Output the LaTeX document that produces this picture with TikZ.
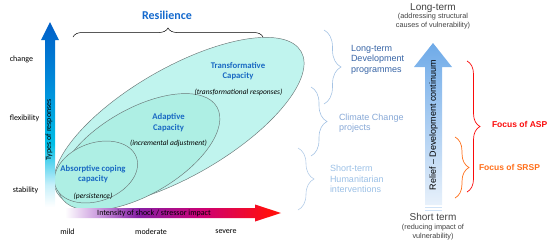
\documentclass[tikz,border=0pt]{standalone}
\usepackage{fontspec}
\setmainfont{Liberation Sans}
\newfontfamily\calfont{Carlito}
\usetikzlibrary{decorations.pathreplacing}

\definecolor{resblue}{RGB}{20,105,205}
\definecolor{capblue}{RGB}{25,105,195}
\definecolor{ltdev}{RGB}{55,100,165}
\definecolor{ccblue}{RGB}{135,168,214}
\definecolor{stblue}{RGB}{155,192,230}
\definecolor{bracea}{RGB}{165,195,228}
\definecolor{braceb}{RGB}{180,205,232}
\definecolor{ellouterfill}{RGB}{192,244,238}
\definecolor{ellinnerfill}{RGB}{174,239,228}
\definecolor{elldraw}{RGB}{105,118,118}
\definecolor{aspred}{RGB}{250,10,10}
\definecolor{srsporange}{RGB}{255,110,25}
\definecolor{graytxt}{RGB}{65,65,65}
\definecolor{rs1}{RGB}{200,240,250}
\definecolor{rs2}{RGB}{0,190,230}
\definecolor{rs3}{RGB}{0,140,218}
\definecolor{rs4}{RGB}{0,95,200}
\definecolor{in2}{RGB}{200,150,220}
\definecolor{in3}{RGB}{135,30,165}
\definecolor{in4}{RGB}{205,0,115}
\definecolor{in5}{RGB}{255,15,15}
\definecolor{ratop}{RGB}{110,170,232}
\definecolor{rabot}{RGB}{232,241,251}

\pgfdeclareverticalshading{respshade}{100bp}{color(0bp)=(white); color(25bp)=(white); color(31bp)=(rs1); color(42bp)=(rs2); color(58bp)=(rs3); color(75bp)=(rs4); color(100bp)=(rs4)}
\pgfdeclarehorizontalshading{intshade}{100bp}{color(0bp)=(white); color(25bp)=(white); color(33bp)=(in2); color(42bp)=(in3); color(57bp)=(in4); color(72bp)=(in5); color(100bp)=(in5)}

\tikzset{
  every node/.style={inner sep=0pt, outer sep=0pt},
  axlbl/.style={font=\calfont\fontsize{8}{9}\selectfont, text=black},
  capt/.style={font=\calfont\bfseries\fontsize{8.7}{10.5}\selectfont, text=capblue, align=center},
  capi/.style={font=\calfont\itshape\fontsize{7.5}{9}\selectfont, text=black},
  ellbase/.style={draw=elldraw, line width=0.45pt},
  rtext/.style={font=\fontsize{9}{10.6}\selectfont, align=left},
  bracedeco/.style={decorate, decoration={brace, amplitude=#1}},
  termbig/.style={font=\fontsize{10}{12}\selectfont, text=graytxt},
  termsmall/.style={font=\fontsize{7.3}{9}\selectfont, text=graytxt, align=center},
  focus/.style={font=\bfseries\fontsize{8.5}{10}\selectfont, anchor=west}
}

\begin{document}
\begin{tikzpicture}[x=1pt,y=-1pt]
\useasboundingbox (0,0) rectangle (550,244);

% ellipses
\path[ellbase, fill=ellouterfill, rotate around={30:(179,122)}] (179,122) ellipse [x radius=141pt, y radius=54pt];
\path[ellbase, fill=ellinnerfill, rotate around={30:(139,152)}] (139,152) ellipse [x radius=90pt, y radius=43pt];
\path[ellbase, fill=ellinnerfill, rotate around={20:(96,172)}] (96,172) ellipse [x radius=43pt, y radius=29pt];

% left vertical arrow
\shade[shading=respshade] (45,207) -- (45,40) -- (41,40) -- (50,22) -- (59,40) -- (55,40) -- (55,207) -- cycle;
\node[axlbl, rotate=90] (types) at (49,130) {Types of responses};

% bottom arrow
\shade[shading=intshade] (65,208) -- (255,208) -- (255,204.5) -- (281,213) -- (255,221.5) -- (255,218) -- (65,218) -- cycle;
\node[axlbl] (intens) at (154,213.5) {Intensity of shock / stressor impact};

% axis labels
\node[axlbl] (change) at (21.5,59) {change};
\node[axlbl] (flex) at (24.5,118) {flexibility};
\node[axlbl] (stab) at (25.5,190) {stability};
\node[axlbl] (mild) at (67.5,232) {mild};
\node[axlbl] (moder) at (151,232) {moderate};
\node[axlbl] (sever) at (226,232) {severe};

% resilience
\node[font=\calfont\bfseries\fontsize{12}{14}\selectfont, text=resblue] (resil) at (167,15) {Resilience};
\coordinate (rbl) at (73,37);
\coordinate (rbr) at (263,37);
\draw[black, line width=0.5pt, bracedeco=9pt] (rbl) -- (rbr);

% capacity texts
\node[capt] (trans) at (238,71) {Transformative\\Capacity};
\node[capi] (transr) at (238.5,92) {(transformational responses)};
\node[capt] (adapt) at (168.5,122.5) {Adaptive\\Capacity};
\node[capi] (adaptr) at (168.5,143.5) {(incremental adjustment)};
\node[capt] (absor) at (93,174) {Absorptive coping\\capacity};
\node[capi] (absorr) at (93,196) {(persistence)};

% right braces and texts
\coordinate (b1t) at (324,30);
\coordinate (b1b) at (324,104);
\draw[bracea, line width=0.6pt, bracedeco=17pt] (b1t) -- (b1b);
\node[rtext, text=ltdev, anchor=west] (ltd) at (351,59.5) {Long-term\\Development\\programmes};

\coordinate (b2t) at (311,87);
\coordinate (b2b) at (311,156);
\draw[bracea, line width=0.6pt, bracedeco=16pt] (b2t) -- (b2b);
\node[rtext, text=ccblue, anchor=west] (ccp) at (339,123) {Climate Change\\projects};

\coordinate (b3t) at (298,148);
\coordinate (b3b) at (298,210);
\draw[braceb, line width=0.6pt, bracedeco=16pt] (b3t) -- (b3b);
\node[rtext, text=stblue, anchor=west] (sth) at (330,179) {Short-term\\Humanitarian\\interventions};

% right big arrow
\shade[top color=ratop, bottom color=rabot] (425,205) -- (425,67) -- (414,67) -- (433,43) -- (452,67) -- (442,67) -- (442,205) -- cycle;
\draw[rabot!80!ratop, line width=0.6pt] (425,207.5) -- (442,207.5);
\draw[rabot!80!ratop, line width=0.6pt] (425,210) -- (442,210);
\node[font=\fontsize{9}{10}\selectfont, rotate=90, text=black] (relief) at (433.5,125) {Relief -- Development continuum};

\node[termbig] (lterm) at (433,8) {Long-term};
\node[termsmall] (lterms) at (433,21.5) {(addressing structural\\causes of vulnerability)};
\node[termbig] (sterm) at (433,217) {Short term};
\node[termsmall] (sterms) at (433,232) {(reducing impact of\\vulnerability)};

% focus braces
\coordinate (asptop) at (467,61);
\coordinate (aspbot) at (467,192);
\draw[aspred, line width=0.7pt, bracedeco=13pt] (asptop) -- (aspbot);
\node[focus, text=aspred] (asp) at (492,124.5) {Focus of ASP};

\coordinate (srtop) at (455,137);
\coordinate (srbot) at (455,198);
\draw[srsporange, line width=0.7pt, bracedeco=14pt] (srtop) -- (srbot);
\node[focus, text=srsporange] (srsp) at (479,167.5) {Focus of SRSP};
\end{tikzpicture}
\end{document}
